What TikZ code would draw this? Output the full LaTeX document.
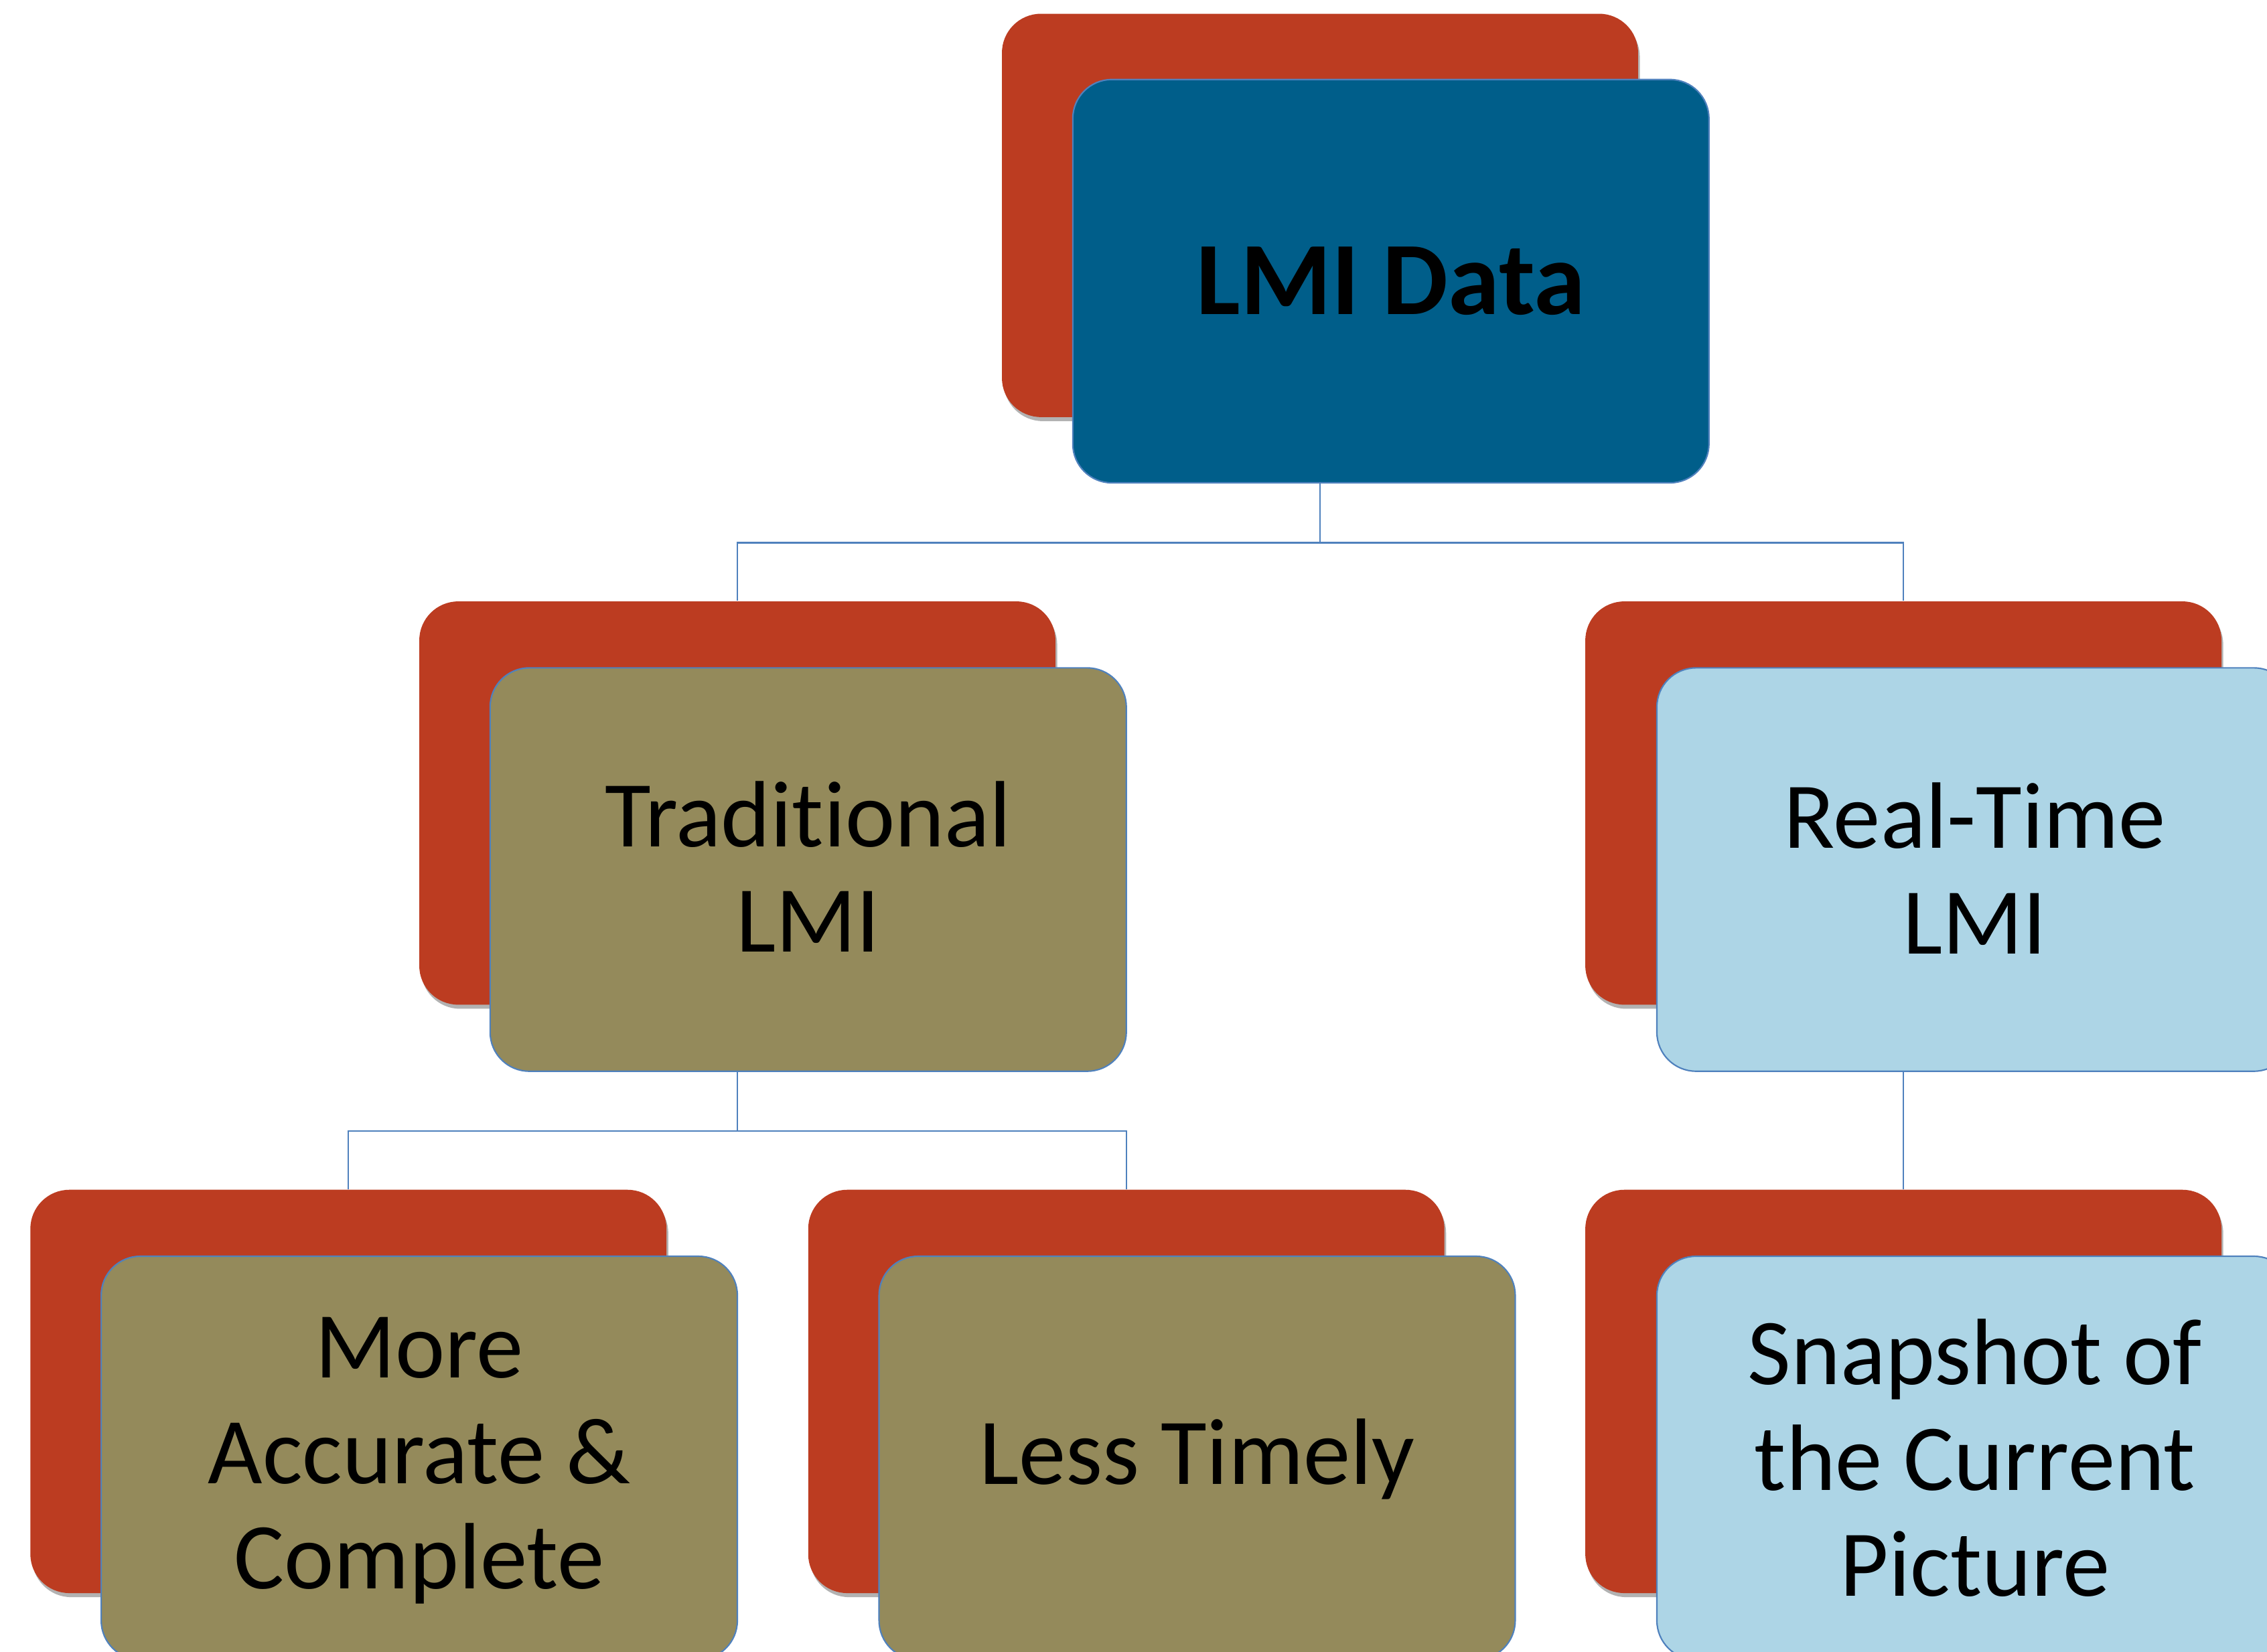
\documentclass[tikz,border=0pt]{standalone}
\usepackage{fontspec}
\setmainfont{Carlito}[Ligatures=NoCommon]
\usetikzlibrary{shadows}
\definecolor{backred}{HTML}{BC3C21}
\definecolor{topblue}{HTML}{005E8A}
\definecolor{olive}{HTML}{948A5B}
\definecolor{paleblue}{HTML}{ADD5E6}
\definecolor{linkblue}{HTML}{4F81BD}
\tikzset{
  box/.style={rounded corners=13.5pt, minimum width=220pt, minimum height=139.5pt, inner sep=0pt},
  backbox/.style={box, fill=backred, drop shadow={shadow xshift=0.6pt, shadow yshift=-1.4pt, opacity=0.3, fill=black}},
  frontbox/.style={box, draw=linkblue, line width=0.5pt},
  lbl/.style={align=center, text=black, inner sep=0pt, font=\fontsize{32.6}{36.5}\selectfont},
  conn/.style={draw=linkblue, line width=0.55pt}
}
\begin{document}
\begin{tikzpicture}[x=0.5pt, y=-0.5pt]
\useasboundingbox (0,0) rectangle (1568,1142.3);
\clip (0,0) rectangle (1568,1142.3);
\fill[white] (0,0) rectangle (1568,1142.3);
% top
\node[backbox] (r1) at (913,149) {};
\node[frontbox, fill=topblue] (f1) at (962,194.5) {};
\node[lbl, font=\fontsize{36}{40}\selectfont\bfseries] (t1) at (f1.center) {LMI Data};
% level 2
\node[backbox] (r2) at (510,555.5) {};
\node[frontbox, fill=olive] (f2) at (559,601.5) {};
\node[lbl] (t2) at ([yshift=1pt]f2.center) {Traditional\\LMI};
\node[backbox] (r3) at (1316.5,555.5) {};
\node[frontbox, fill=paleblue] (f3) at (1366,601.5) {};
\node[lbl] (t3) at ([yshift=0.5pt]f3.center) {Real-Time\\LMI};
% level 3
\node[backbox] (r4) at (241,962.5) {};
\node[frontbox, fill=olive] (f4) at (290,1008.5) {};
\node[lbl] (t4) at ([yshift=-1pt]f4.center) {More\\Accurate \&\\Complete};
\node[backbox] (r5) at (779,962.5) {};
\node[frontbox, fill=olive] (f5) at (828,1008.5) {};
\node[lbl] (t5) at ([yshift=-0.5pt]f5.center) {Less Timely};
\node[backbox] (r6) at (1316.5,962.5) {};
\node[frontbox, fill=paleblue] (f6) at (1366,1008.5) {};
\node[lbl] (t6) at (f6.center) {Snapshot of\\the Current\\Picture};
% connectors
\coordinate (j1) at (913,375.5);
\coordinate (j2) at (510,782.5);
\draw[conn] (r1.center |- f1.south) -- (j1);
\draw[conn] (j1) -| (r2.north);
\draw[conn] (j1) -| (r3.north);
\draw[conn] (r2.center |- f2.south) -- (j2);
\draw[conn] (j2) -| (r4.north);
\draw[conn] (j2) -| (r5.north);
\draw[conn] (r3.center |- f3.south) -- (r6.north);
\end{tikzpicture}
\end{document}
